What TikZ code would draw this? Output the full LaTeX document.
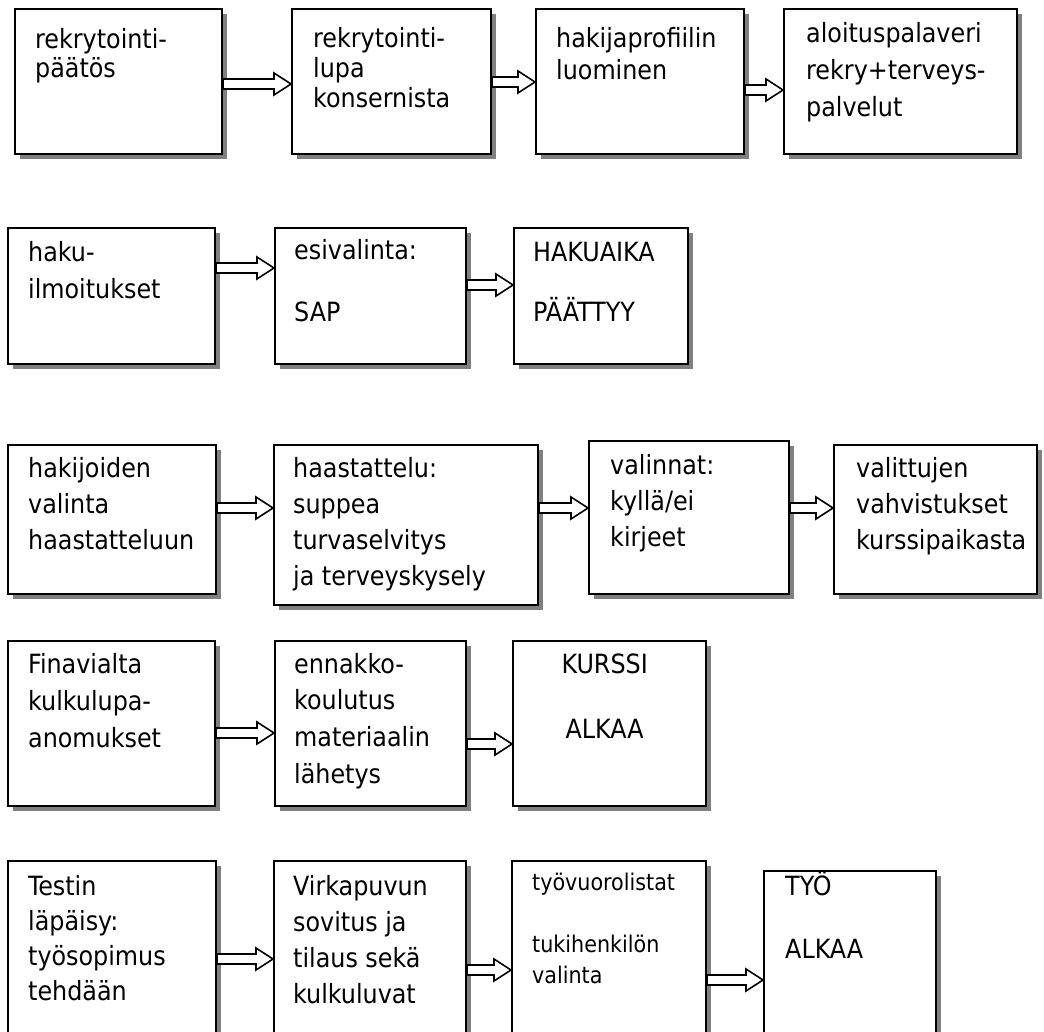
\documentclass[tikz,border=0pt]{standalone}
\usepackage{fontspec}
\setmainfont{DejaVu Sans Condensed}
\usetikzlibrary{shadows,calc}
\tikzset{
    %Define style for boxes
    laatikko/.style={
           rectangle,
           draw=black, line width=2pt,
           fill=white,
           anchor=north west,
           inner sep=0pt,
           drop shadow={shadow xshift=5pt, shadow yshift=-5pt,
                        fill=black!50, opacity=1}},
    %Define style for texts in boxes
    teksti/.style={
           anchor=base west,
           inner sep=0pt,
           font=\fontsize{26.5}{#1}\selectfont},
    teksti/.default=36,
    % Define arrow style
    nuoli/.style={
           draw=black, line width=1.6pt,
           fill=white,
           line join=miter}
}
% hollow block arrow: from box #1 to box #2 at height #3
\newcommand{\putki}[3]{%
  \draw[nuoli] ($(#1.east|-0,#3)+(0,-5)$) -- ($(#2.west|-0,#3)+(-17,-5)$)
     -- ++(0,-6) -- (#2.west|-0,#3) -- ++(-17,11) -- ++(0,-6)
     -- ($(#1.east|-0,#3)+(0,5)$) -- cycle;}

\begin{document}
\begin{tikzpicture}[x=1pt,y=-1pt]
 \useasboundingbox (0,0) rectangle (1044,1032);
 \clip (0,0) rectangle (1044,1032);
 \fill[white] (0,0) rectangle (1044,1032);
 %boxes, row 1
 \node[laatikko, minimum width=207pt, minimum height=145pt] (paatos) at (14,8) {};
 \node[laatikko, minimum width=199pt, minimum height=145pt] (lupa) at (291,8) {};
 \node[laatikko, minimum width=208pt, minimum height=145pt] (profiili) at (535,8) {};
 \node[laatikko, minimum width=233pt, minimum height=145pt] (palaveri) at (783,8) {};
 \node[teksti=29] at (35,49) {\parbox[t]{200pt}{rekrytointi-\\päätös}};
 \node[teksti=30] at (313,48) {\parbox[t]{200pt}{rekrytointi-\\lupa\\konsernista}};
 \node[teksti=32] at (556,48) {\parbox[t]{200pt}{hakijaprofiilin\\luominen}};
 \node[teksti=37] at (806,43) {\parbox[t]{220pt}{aloituspalaveri\\rekry+terveys-\\palvelut}};
 %boxes, row 2
 \node[laatikko, minimum width=207pt, minimum height=136pt] (ilmoitus) at (7,227) {};
 \node[laatikko, minimum width=191pt, minimum height=136pt] (esivalinta) at (274,227) {};
 \node[laatikko, minimum width=174pt, minimum height=136pt] (hakuaika) at (513,227) {};
 \node[teksti=36] at (28,262) {\parbox[t]{200pt}{haku-\\ilmoitukset}};
 \node[teksti=31] at (294,260) {\parbox[t]{200pt}{esivalinta:\\[31pt]SAP}};
 \node[teksti=30] at (533,262) {\parbox[t]{200pt}{HAKUAIKA\\[30pt]PÄÄTTYY}};
 %boxes, row 3
 \node[laatikko, minimum width=208pt, minimum height=149pt] (haastvalinta) at (7,444) {};
 \node[laatikko, minimum width=264pt, minimum height=160pt] (haastattelu) at (273,444) {};
 \node[laatikko, minimum width=200pt, minimum height=153pt] (valinnat) at (588,440) {};
 \node[laatikko, minimum width=203pt, minimum height=149pt] (vahvistus) at (833,444) {};
 \node[teksti] at (28,477) {\parbox[t]{200pt}{hakijoiden\\valinta\\haastatteluun}};
 \node[teksti] at (293,477) {\parbox[t]{250pt}{haastattelu:\\suppea\\turvaselvitys\\ja terveyskysely}};
 \node[teksti] at (610,474) {\parbox[t]{200pt}{valinnat:\\kyllä/ei\\kirjeet}};
 \node[teksti] at (856,477) {\parbox[t]{200pt}{valittujen\\vahvistukset\\kurssipaikasta}};
 %boxes, row 4
 \node[laatikko, minimum width=207pt, minimum height=165pt] (kulkulupa) at (7,640) {};
 \node[laatikko, minimum width=191pt, minimum height=165pt] (ennakko) at (274,640) {};
 \node[laatikko, minimum width=193pt, minimum height=165pt] (kurssi) at (512,640) {};
 \node[teksti=37] at (28,673) {\parbox[t]{200pt}{Finavialta\\kulkulupa-\\anomukset}};
 \node[teksti=36.7] at (294,673) {\parbox[t]{200pt}{ennakko-\\koulutus\\materiaalin\\lähetys}};
 \node[teksti=36] at (512,673) {\parbox[t]{185pt}{\centering KURSSI\\[29pt]ALKAA}};
 %boxes, row 5
 \node[laatikko, minimum width=208pt, minimum height=180pt] (testi) at (7,860) {};
 \node[laatikko, minimum width=192pt, minimum height=180pt] (virkapuku) at (273,860) {};
 \node[laatikko, minimum width=194pt, minimum height=180pt] (tyovuoro) at (511,860) {};
 \node[laatikko, minimum width=172pt, minimum height=170pt] (tyo) at (763,870) {};
 \node[teksti=35] at (28,895) {\parbox[t]{200pt}{Testin\\läpäisy:\\työsopimus\\tehdään}};
 \node[teksti=36] at (293,895) {\parbox[t]{200pt}{Virkapuvun\\sovitus ja\\tilaus sekä\\kulkuluvat}};
 \node[teksti, font=\fontsize{23}{31}\selectfont] at (532,890)
   {\parbox[t]{200pt}{työvuorolistat\\[31pt]tukihenkilön\\valinta}};
 \node[teksti=31] at (785,895) {\parbox[t]{200pt}{TYÖ\\[32pt]ALKAA}};
 %arrows
 \putki{paatos}{lupa}{84}
 \putki{lupa}{profiili}{82}
 \putki{profiili}{palaveri}{90}
 \putki{ilmoitus}{esivalinta}{268}
 \putki{esivalinta}{hakuaika}{285}
 \putki{haastvalinta}{haastattelu}{508}
 \putki{haastattelu}{valinnat}{508}
 \putki{valinnat}{vahvistus}{508}
 \putki{kulkulupa}{ennakko}{733}
 \putki{ennakko}{kurssi}{744}
 \putki{testi}{virkapuku}{959}
 \putki{virkapuku}{tyovuoro}{970}
 \putki{tyovuoro}{tyo}{980}
\end{tikzpicture}
\end{document}
